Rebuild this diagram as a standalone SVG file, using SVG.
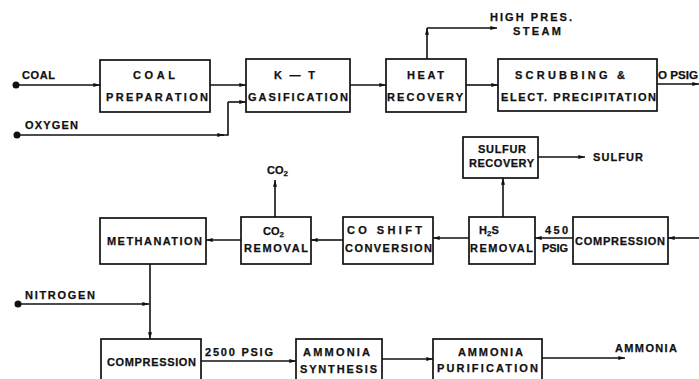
<svg xmlns="http://www.w3.org/2000/svg" width="699" height="379" viewBox="0 0 699 379">
<style>
.box{fill:none;stroke:#111;stroke-width:1.7}
.ln{fill:none;stroke:#111;stroke-width:1.6}
.ar{fill:none;stroke:#111;stroke-width:1.6;marker-end:url(#ah)}
text{font-family:"Liberation Sans",Arial,sans-serif;font-weight:bold;font-size:11px;fill:#111;stroke:#111;stroke-width:0.25}
.sub{font-size:8px}
</style>
<defs>
<marker id="ah" viewBox="0 0 10 6" refX="10" refY="3" markerWidth="8" markerHeight="4" orient="auto" markerUnits="userSpaceOnUse">
<path d="M0,0 L10,3 L0,6 z" fill="#111"/>
</marker>
</defs>
<rect width="699" height="379" fill="#fff"/>
<g id="connectors">
<circle cx="16" cy="85" r="3.5" fill="#111"/>
<path class="ar" d="M16,85 H100"/>
<path class="ar" d="M210,85 H246"/>
<circle cx="17" cy="135" r="3.5" fill="#111"/>
<path class="ar" d="M17,135 H224"/>
<path class="ln" d="M222,135 H228 V102"/>
<path class="ar" d="M228,102 H246"/>
<path class="ar" d="M350,85 H386"/>
<path class="ar" d="M427,59 V28"/>
<path class="ar" d="M427,28 H497"/>
<path class="ar" d="M466,85 H498"/>
<path class="ar" d="M657,84 H699"/>
<path class="ar" d="M699,238 H668"/>
<path class="ar" d="M573,238 H535"/>
<path class="ar" d="M469,238 H433"/>
<path class="ar" d="M343,240 H311"/>
<path class="ar" d="M241,240 H206"/>
<path class="ar" d="M503,217 V178"/>
<path class="ar" d="M538,157 H585"/>
<path class="ar" d="M275,217 V180"/>
<circle cx="18" cy="304" r="3.5" fill="#111"/>
<path class="ar" d="M18,304 H149"/>
<path class="ar" d="M150,264 V339"/>
<path class="ar" d="M201,361 H296"/>
<path class="ar" d="M382,359 H433"/>
<path class="ar" d="M542,358 H625"/>
</g>
<g id="labels">
<text x="22" y="79" textLength="33" lengthAdjust="spacing">COAL</text>
<text x="25" y="129" textLength="53" lengthAdjust="spacing">OXYGEN</text>
<text x="490" y="21" textLength="82" lengthAdjust="spacing">HIGH PRES.</text>
<text x="513" y="35" textLength="48" lengthAdjust="spacing">STEAM</text>
<text x="658" y="79" textLength="40" lengthAdjust="spacingAndGlyphs">O PSIG</text>
<text x="267" y="174">CO<tspan class="sub" dy="2">2</tspan></text>
<text x="593" y="161" textLength="50" lengthAdjust="spacing">SULFUR</text>
<text x="545" y="234" textLength="23" lengthAdjust="spacing">450</text>
<text x="542" y="252" textLength="26" lengthAdjust="spacing">PSIG</text>
<text x="25" y="299" textLength="70" lengthAdjust="spacing">NITROGEN</text>
<text x="205" y="356" textLength="68" lengthAdjust="spacing">2500 PSIG</text>
<text x="615" y="352" textLength="62" lengthAdjust="spacing">AMMONIA</text>
</g>
<g id="coal-preparation">
<rect class="box" x="100" y="60" width="110" height="52"/>
<text x="133" y="79" textLength="42" lengthAdjust="spacing">COAL</text>
<text x="106" y="101" textLength="102" lengthAdjust="spacing">PREPARATION</text>
</g>
<g id="kt-gasification">
<rect class="box" x="246" y="59" width="104" height="53"/>
<text x="274" y="79" textLength="41" lengthAdjust="spacing">K—T</text>
<text x="248" y="101" textLength="100" lengthAdjust="spacing">GASIFICATION</text>
</g>
<g id="heat-recovery">
<rect class="box" x="386" y="59" width="80" height="53"/>
<text x="407" y="79" textLength="37" lengthAdjust="spacing">HEAT</text>
<text x="387" y="101" textLength="76" lengthAdjust="spacing">RECOVERY</text>
</g>
<g id="scrubbing">
<rect class="box" x="498" y="59" width="159" height="52"/>
<text x="515" y="79" textLength="110" lengthAdjust="spacing">SCRUBBING   &amp;</text>
<text x="501" y="101" textLength="155" lengthAdjust="spacing">ELECT. PRECIPITATION</text>
</g>
<g id="sulfur-recovery">
<rect class="box" x="463" y="137" width="75" height="41"/>
<text x="478" y="153" textLength="48" lengthAdjust="spacing">SULFUR</text>
<text x="469" y="167" textLength="65" lengthAdjust="spacing">RECOVERY</text>
</g>
<g id="methanation">
<rect class="box" x="100" y="218" width="106" height="46"/>
<text x="107" y="245" textLength="95" lengthAdjust="spacing">METHANATION</text>
</g>
<g id="co2-removal">
<rect class="box" x="241" y="217" width="70" height="47"/>
<text x="263" y="235">CO<tspan class="sub" dy="2">2</tspan></text>
<text x="244" y="252" textLength="64" lengthAdjust="spacing">REMOVAL</text>
</g>
<g id="co-shift">
<rect class="box" x="343" y="217" width="90" height="47"/>
<text x="347" y="234" textLength="75" lengthAdjust="spacing">CO   SHIFT</text>
<text x="345" y="252" textLength="87" lengthAdjust="spacing">CONVERSION</text>
</g>
<g id="h2s-removal">
<rect class="box" x="469" y="217" width="66" height="47"/>
<text x="479" y="234">H<tspan class="sub" dy="2">2</tspan><tspan dy="-2">S</tspan></text>
<text x="470" y="252" textLength="63" lengthAdjust="spacing">REMOVAL</text>
</g>
<g id="compression-450">
<rect class="box" x="573" y="217" width="95" height="47"/>
<text x="575" y="245" textLength="90" lengthAdjust="spacing">COMPRESSION</text>
</g>
<g id="compression-2500">
<rect class="box" x="101" y="339" width="100" height="60"/>
<text x="107" y="366" textLength="89" lengthAdjust="spacing">COMPRESSION</text>
</g>
<g id="ammonia-synthesis">
<rect class="box" x="296" y="339" width="86" height="60"/>
<text x="303" y="356" textLength="67" lengthAdjust="spacing">AMMONIA</text>
<text x="300" y="373" textLength="77" lengthAdjust="spacing">SYNTHESIS</text>
</g>
<g id="ammonia-purification">
<rect class="box" x="433" y="339" width="109" height="60"/>
<text x="458" y="356" textLength="65" lengthAdjust="spacing">AMMONIA</text>
<text x="437" y="372" textLength="101" lengthAdjust="spacing">PURIFICATION</text>
</g>
</svg>
